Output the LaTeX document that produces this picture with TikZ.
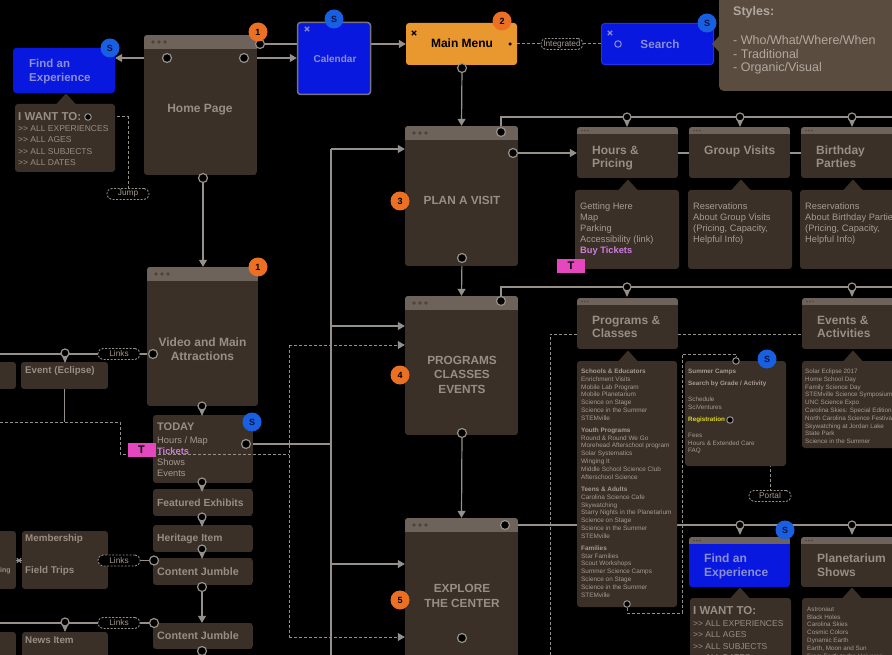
\documentclass[tikz,border=0pt]{standalone}
\usepackage{fontspec}
\setmainfont{Liberation Sans}
\usetikzlibrary{arrows.meta,fit,calc}
\pgfdeclarelayer{back}\pgfdeclarelayer{lines}\pgfdeclarelayer{front}
\pgfsetlayers{back,lines,main,front}
\definecolor{cardc}{RGB}{58,48,40}
\definecolor{headc}{RGB}{110,99,90}
\definecolor{dotc}{RGB}{78,68,60}
\definecolor{linec}{RGB}{150,144,138}
\definecolor{textc}{RGB}{152,142,134}
\definecolor{ltext}{RGB}{165,155,146}
\definecolor{blueb}{RGB}{8,24,222}
\definecolor{bluet}{RGB}{140,142,212}
\definecolor{sbadge}{RGB}{25,95,225}
\definecolor{sbt}{RGB}{10,20,70}
\definecolor{obadge}{RGB}{235,112,35}
\definecolor{menuc}{RGB}{233,152,48}
\definecolor{pinkc}{RGB}{230,70,190}
\definecolor{pinkt}{RGB}{205,125,220}
\definecolor{yelt}{RGB}{225,215,40}
\definecolor{stylec}{RGB}{90,77,64}
\definecolor{stylet}{RGB}{178,168,158}
\definecolor{calb}{RGB}{120,115,128}
\newcommand\fsz[2]{\fontsize{#1}{#2}\selectfont}
% card: [body colour]{name}{x1}{y1}{x2}{y2}{header height}
\newcommand\cardbox[7][cardc]{%
 \begin{scope}
 \clip[rounded corners=3pt] (#3,#4) rectangle (#5,#6);
 \fill[#1] (#3,#4) rectangle (#5,#6);
 \ifdim #7pt>0pt \fill[headc] (#3,#4) rectangle (#5,{#4+#7}); \fi
 \end{scope}
 \node[inner sep=0pt, fit={(#3,#4) (#5,#6)}] (#2) {};
}
% three header dots: x y radius spacing
\newcommand\wdots[4]{\foreach \i in {0,1,2}{\fill[dotc] ({#1+\i*#4},#2) circle (#3pt);}}
% tooltip: [colour]{name}{x1}{y1}{x2}{y2}{pointer x}
\newcommand\tipbox[7][cardc]{%
 \fill[#1, rounded corners=3pt] (#3,#4) rectangle (#5,#6);
 \fill[#1] ({#7-10},{#4+0.5}) -- (#7,{#4-10.5}) -- ({#7+10},{#4+0.5}) -- cycle;
 \node[inner sep=0pt, fit={(#3,#4) (#5,#6)}] (#2) {};
}
\newcommand\pinat[2]{%
 \fill[linec] ({#1-4},{#2+1}) -- ({#1+4},{#2+1}) -- (#1,{#2+10}) -- cycle;
 \draw[linec, line width=1.2pt, fill=black] (#1,#2) circle (4pt);
}
\newcommand\xm[3]{\draw[#3, line width=1.3pt] ({#1-2.2},{#2-2.2}) -- ({#1+2.2},{#2+2.2}) ({#1-2.2},{#2+2.2}) -- ({#1+2.2},{#2-2.2});}
\begin{document}
\begin{tikzpicture}[x=1pt,y=-1pt,
 conn/.style={draw=linec, line width=1.2pt},
 arr/.style={conn, -{Triangle[width=8pt,length=7pt]}},
 dsh/.style={draw=linec, line width=1pt, dash pattern=on 3pt off 2pt},
 darr/.style={dsh, -{Triangle[width=8pt,length=7pt]}},
 port/.style={circle, draw=linec, line width=1.2pt, fill=black, minimum size=9pt, inner sep=0pt},
 sport/.style={port, minimum size=6.5pt, line width=1pt},
 lab/.style={draw=linec, line width=0.9pt, dash pattern=on 2pt off 1.5pt, rounded corners=5pt, fill=black, text=ltext, font=\fsz{8.3}{9}, minimum width=42pt, minimum height=11pt, inner sep=0pt},
 ob/.style={circle, fill=obadge, minimum size=19pt, inner sep=0pt, font=\fsz{9}{10}\bfseries, text=black},
 sb/.style={ob, fill=sbadge, text=sbt},
 ttl/.style={text=textc, font=\fsz{12}{14.5}\bfseries, align=center, inner sep=0pt},
 sttl/.style={text=textc, font=\fsz{12}{13.6}\bfseries, align=left, inner sep=0pt, anchor=north west},
 lttl/.style={text=textc, font=\fsz{10.3}{12}\bfseries, inner sep=0pt, anchor=west},
 btl/.style={text=bluet, font=\fsz{11.5}{14.5}\bfseries, align=left, inner sep=0pt, anchor=north west},
 tip/.style={inner sep=0pt, align=left, text=ltext, font=\fsz{9.3}{11}, anchor=north west},
 small/.style={inner sep=0pt, align=left, text=ltext, font=\fsz{6.3}{7.8}, anchor=north west},
 iw/.style={inner sep=0pt, anchor=west, text=textc, font=\fsz{11.5}{13}\bfseries},
 iwl/.style={inner sep=0pt, align=left, anchor=north west, text=textc, font=\fsz{8.5}{11.5}},
 tb/.style={fill=pinkc, minimum width=28pt, minimum height=14pt, inner sep=0pt, font=\fsz{11}{12}\bfseries, text=black}
]
\useasboundingbox (0,0) rectangle (892,655);
\begin{pgfonlayer}{back}
\fill[black] (-10,-10) rectangle (902,665);
\end{pgfonlayer}

% ---------- top row ----------
\node[fill=blueb, rounded corners=3pt, minimum width=102pt, minimum height=45pt, inner sep=0pt] (fae) at (64,70.5) {};
\node[btl] at (29,58.8) {Find an\\Experience};
\tipbox{fiq}{15}{104}{115}{172}{66}
\node[iw] (iwt) at (18,117) {I WANT TO:};
\node[iwl] at (18,124.9) {>{}> ALL EXPERIENCES\\>{}> ALL AGES\\>{}> ALL SUBJECTS\\>{}> ALL DATES};
\node[lab] (jump) at (128,194) {Jump};

\cardbox{hp}{144}{35}{257}{175}{14}
\wdots{153}{42}{1.9}{6}
\node[ttl] at (200,110) {Home Page};

\node[fill=blueb, draw=calb, line width=1.5pt, rounded corners=3pt, minimum width=73pt, minimum height=72pt, inner sep=0pt] (cal) at (334,58.5) {};
\node[text=bluet, font=\fsz{10}{12}\bfseries, inner sep=0pt] at (335,59) {Calendar};
\xm{307}{29}{bluet}

\node[fill=menuc, rounded corners=3pt, minimum width=111pt, minimum height=42pt, inner sep=0pt] (mm) at (461.5,44) {};
\node[text=black, font=\fsz{12}{14}\bfseries, inner sep=0pt] at (462,43.5) {Main Menu};
\xm{414}{33}{black}

\node[lab] (integ) at (562,44) {Integrated};

\node[fill=blueb, draw={rgb,255:red,30;green,50;blue,240}, line width=1pt, rounded corners=3pt, minimum width=112pt, minimum height=41pt, inner sep=0pt] (sr) at (657.5,44) {};
\node[text=bluet, font=\fsz{11.7}{14}\bfseries, inner sep=0pt] at (660,44) {Search};
\xm{610}{33}{bluet}

\fill[stylec, rounded corners=5pt] (719,-8) rectangle (905,91);
\fill[stylec] (720,35) -- (712,44) -- (720,53) -- cycle;
\node[inner sep=0pt, anchor=west, text=stylet, font=\fsz{12.5}{14}\bfseries] (sty) at (733,12) {Styles:};
\node[inner sep=0pt, anchor=west, text=stylet, font=\fsz{12.5}{14}] at (733,40) {- Who/What/Where/When};
\node[inner sep=0pt, anchor=west, text=stylet, font=\fsz{12.5}{14}] at (733,54) {- Traditional};
\node[inner sep=0pt, anchor=west, text=stylet, font=\fsz{12.5}{14}] at (733,68) {- Organic/Visual};

% ---------- main column ----------
\cardbox{pv}{405}{126}{518}{266}{14}
\wdots{414}{133}{1.9}{6}
\node[ttl, font=\fsz{11.8}{14.5}\bfseries] at (462,200) {PLAN A VISIT};

\cardbox{pr}{405}{296}{518}{435}{14}
\wdots{414}{303}{1.9}{6}
\node[ttl, font=\fsz{11.8}{14.5}\bfseries, anchor=north] at (462,355.7) {PROGRAMS\\CLASSES\\EVENTS};

\cardbox{ex}{405}{518}{518}{670}{14}
\wdots{414}{525}{1.9}{6}
\node[ttl, font=\fsz{11.8}{15}\bfseries, anchor=north] at (462,583.6) {EXPLORE\\THE CENTER};

% ---------- left column ----------
\cardbox{vid}{147}{267}{258}{406}{14}
\wdots{156}{274}{1.9}{6}
\node[ttl, anchor=north] at (202.5,337.6) {Video and Main\\Attractions};

\cardbox{td}{153}{415}{253}{483}{0}
\node[inner sep=0pt, anchor=west, text=textc, font=\fsz{11}{13}\bfseries] at (157,427) {TODAY};
\node[tip] at (157,436.6) {Hours / Map\\\textcolor{pinkt}{\bfseries Tickets}\\Shows\\Events};

\cardbox{fe}{153}{489}{253}{516}{0}
\node[lttl] at (157,502.5) {Featured Exhibits};
\cardbox{her}{153}{525}{253}{552}{0}
\node[lttl] at (157,538.5) {Heritage Item};
\cardbox{cja}{153}{558}{253}{585}{0}
\node[lttl, font=\fsz{10.8}{12}\bfseries] at (157,571.5) {Content Jumble};
\cardbox{cjb}{153}{623}{253}{649}{0}
\node[lttl, font=\fsz{10.8}{12}\bfseries] at (157,636) {Content Jumble};

\cardbox{ecl}{21}{362}{108}{389}{0}
\node[lttl, font=\fsz{9.7}{12}\bfseries] at (25,371) {Event (Eclipse)};
\cardbox{cut1}{-6}{362}{16}{389}{0}
\cardbox{mem}{22}{531}{108}{589}{0}
\node[lttl, font=\fsz{9.8}{12}\bfseries] at (25,539) {Membership};
\node[lttl, font=\fsz{9.8}{12}\bfseries] at (25,571) {Field Trips};
\cardbox{cut2}{-6}{531}{16}{589}{0}
\node[lttl, font=\fsz{7}{8}\bfseries] at (0,571) {ing};
\cardbox{news}{22}{632}{108}{668}{0}
\node[lttl, font=\fsz{9.8}{12}\bfseries] at (25,640) {News Item};
\cardbox{cut3}{-6}{632}{16}{668}{0}

\node[lab] (lk1) at (119,354) {Links};
\node[lab] (lk2) at (119,560.5) {Links};
\node[lab] (lk3) at (119,623) {Links};

% ---------- right side ----------
\cardbox{hrs}{577}{127}{678}{178}{7}
\wdots{582}{130.5}{0.9}{3}
\node[sttl] at (592,145.5) {Hours \&\\Pricing};
\cardbox{grp}{689}{127}{790}{178}{7}
\wdots{694}{130.5}{0.9}{3}
\node[sttl] at (704,145.5) {Group Visits};
\cardbox{bdy}{801}{127}{905}{178}{7}
\wdots{806}{130.5}{0.9}{3}
\node[sttl] at (816,145.5) {Birthday\\Parties};

\tipbox{thrs}{575}{190}{679}{269}{628}
\node[tip] at (580,202.5) {Getting Here\\Map\\Parking\\Accessibility (link)\\\textcolor{pinkt}{\bfseries Buy Tickets}};
\tipbox{tgrp}{688}{190}{792}{269}{741}
\node[tip] at (693,202.5) {Reservations\\About Group Visits\\(Pricing, Capacity,\\Helpful Info)};
\tipbox{tbdy}{800}{190}{905}{269}{853}
\node[tip] at (805,202.5) {Reservations\\About Birthday Parties\\(Pricing, Capacity,\\Helpful Info)};

\cardbox{pc}{577}{298}{678}{349}{7}
\wdots{582}{301.5}{0.9}{3}
\node[sttl] at (592,315.6) {Programs \&\\Classes};
\cardbox{evt}{802}{298}{905}{349}{7}
\wdots{807}{301.5}{0.9}{3}
\node[sttl] at (817,315.6) {Events \&\\Activities};

\tipbox{tpc}{577}{361}{677}{607}{628}
\node[small, font=\fsz{6.4}{7.8}] at (581,368.6) {{\bfseries Schools \& Educators}\\Enrichment Visits\\Mobile Lab Program\\Mobile Planetarium\\Science on Stage\\Science in the Summer\\STEMville\\[4.2pt]
{\bfseries Youth Programs}\\Round \& Round We Go\\Morehead Afterschool program\\Solar Systematics\\Winging It\\Middle School Science Club\\Afterschool Science\\[4.6pt]
{\bfseries Teens \& Adults}\\Carolina Science Cafe\\Skywatching\\Starry Nights in the Planetarium\\Science on Stage\\Science in the Summer\\STEMville\\[4.2pt]
{\bfseries Families}\\Star Families\\Scout Workshops\\Summer Science Camps\\Science on Stage\\Science in the Summer\\STEMville};

\fill[cardc, rounded corners=3pt] (685,361) rectangle (786,466);
\node[inner sep=0pt, fit={(685,361) (786,466)}] (sc) {};
\node[small, anchor=west] at (688,372) {\bfseries Summer Camps};
\node[small, anchor=west] at (688,384) {\bfseries Search by Grade / Activity};
\node[small] at (688,396.7) {Schedule\\SciVentures};
\node[small, anchor=west, text=yelt] (regT) at (688,420) {\bfseries Registration};
\node[small] at (688,432.7) {Fees\\Hours \& Extended Care\\FAQ};
\node[lab] (portal) at (770,496) {Portal};

\tipbox{tevt}{802}{361}{905}{448}{853}
\node[small] at (805,368.7) {Solar Eclipse 2017\\Home School Day\\Family Science Day\\STEMville Science Symposium\\UNC Science Expo\\Carolina Skies: Special Edition\\North Carolina Science Festival\\Skywatching at Jordan Lake\\State Park\\Science in the Summer};

\cardbox[blueb]{fe2}{689}{537}{790}{587}{7}
\wdots{694}{540.5}{0.9}{3}
\node[btl, font=\fsz{12}{14}\bfseries] at (704,553.6) {Find an\\Experience};
\cardbox{pla}{801}{537}{905}{587}{7}
\wdots{806}{540.5}{0.9}{3}
\node[sttl] at (817,553.6) {Planetarium\\Shows};

\tipbox{tfe2}{690}{598}{791}{670}{740}
\node[iw] at (693,611) {I WANT TO:};
\node[iwl] at (693,619.9) {>{}> ALL EXPERIENCES\\>{}> ALL AGES\\>{}> ALL SUBJECTS\\>{}> ALL DATES};
\tipbox{tpla}{802}{598}{905}{670}{852}
\node[small] at (807,606.7) {Astronaut\\Black Holes\\Carolina Skies\\Cosmic Colors\\Dynamic Earth\\Earth, Moon and Sun\\From Earth to the Universe};

% ---------- ports ----------
\begin{pgfonlayer}{front}
\node[port] (hpL) at (167,58) {};
\node[port] (hpR) at (244,58) {};
\node[port] (hpT) at (260,44) {};
\node[port] (hpB) at (203,178) {};
\node[sport] (fiqI) at (88,117) {};
\node[circle, fill=black, minimum size=3.5pt, inner sep=0pt] (mmD) at (510,44) {};
\node[port] (mmB) at (462,68) {};
\node[sport, draw=bluet, fill=blueb] (srC) at (618,44) {};
\node[port] (pvT) at (501,132) {};
\node[port] (pvR) at (513,153) {};
\node[port] (pvB) at (462,258) {};
\node[port] (prT) at (501,301) {};
\node[port] (prB) at (462,433) {};
\node[port] (exT) at (505,525) {};
\node[port] (exB) at (462,638) {};
\node[port] (vL) at (153,354) {};
\node[port] (tdR) at (246,444) {};
\node[port] (cj1L) at (154,560.5) {};
\node[port] (cj2L) at (154,623) {};
\node[port] (cj1B) at (202,587) {};
\node[port] (cj2B) at (202,651) {};
\node[sport] (pgB) at (627,604) {};
\node[sport] (scT) at (736,361) {};
\node[sport] (regC) at (730,420) {};
\end{pgfonlayer}

\coordinate (rowA) at (905,117);
\coordinate (rowB) at (905,287);
\coordinate (rowC) at (905,525);
\coordinate (botE) at (462,665);
\coordinate (busT) at (331,149);
\coordinate (busP) at (331,326);
\coordinate (busE) at (331,564);
\coordinate (busB) at (331,665);
\coordinate (dbT) at (289,345);
\coordinate (dbB) at (289,637);
\coordinate (ld0) at (-5,422);
\coordinate (ld1) at (120,454);
\coordinate (le1) at (-5,354);
\coordinate (le2) at (-5,560.5);
\coordinate (le3) at (-5,623);
\coordinate (dA) at (682,613);
\coordinate (dB) at (682,354);
\coordinate (pcA) at (577,334);
\coordinate (pcB) at (550,665);

% ---------- connectors ----------
\begin{pgfonlayer}{lines}
\draw[arr] (hpL) -- (hpL -| fae.east);
\draw[arr] (hpR) -- (hpR -| cal.west);
\draw[conn] (hpT) -- (hpT -| cal.west);
\draw[arr] (mm.west -| cal.east) -- (mm.west);
\draw[dsh] (mmD) -- (integ);
\draw[dsh] (integ) -- (srC);
\draw[arr] (mmB) -- (pv.north);
\draw[arr] (hpB) -- (hpB |- vid.north);
\draw[dsh] (fiqI) -| (jump);
\draw[conn] (pvT) |- (rowA);
\draw[arr] (pvR) -- (pvR -| hrs.west);
\draw[conn] (pvR -| hrs.east) -- (pvR -| grp.west);
\draw[conn] (pvR -| grp.east) -- (pvR -| bdy.west);
\draw[arr] (pvB) -- (pr.north);
\draw[conn] (prT) |- (rowB);
\draw[arr] (prB) -- (ex.north);
\draw[conn] (exT) -- (rowC);
\draw[conn] (exB) -- (botE);
\draw[conn] (busB) -- (busT);
\draw[arr] (busT) -- (busT -| pv.west);
\draw[arr] (busP) -- (busP -| pr.west);
\draw[arr] (busE) -- (busE -| ex.west);
\draw[conn] (tdR) -- (tdR -| busT);
\draw[dsh] (dbT) -- (dbB);
\draw[darr] (dbT) -- (dbT -| pr.west);
\draw[darr] (dbB) -- (dbB -| ex.west);
\draw[conn] (ecl.south) -- (ecl.south |- ld0);
\draw[conn] (vL) -- (lk1);
\draw[conn] (lk1) -- (le1);
\draw[conn] (cj1L) -- (lk2);
\draw[conn] (lk2) -- (le2);
\draw[conn] (cj2L) -- (lk3);
\draw[conn] (lk3) -- (le3);
\draw[arr] (cj1B) -- (cj1B |- cjb.north);
\draw[dsh] (pgB) |- (dA) -- (dB) -| (scT);
\draw[dsh] (regC) -| (portal);
\draw[dsh] (pcA) -| (pcB);
\draw[dsh] (pcA -| pc.east) -- (pcA -| evt.west);
\end{pgfonlayer}

% ---------- pins, badges, overlays ----------
\begin{pgfonlayer}{front}
\draw[dsh] (ld0) -| (ld1) -- (ld1 -| dbT);
\pinat{627}{117}\pinat{740}{117}\pinat{852}{117}
\pinat{627}{287}\pinat{852}{287}
\pinat{740}{525}\pinat{852}{525}
\pinat{65}{353}\pinat{65}{622}
\pinat{202}{406}\pinat{202}{482}\pinat{202}{517}\pinat{202}{549}
\xm{19}{560.5}{linec}
\node[tb] (t1) at (571,266) {T};
\node[tb] (t2) at (141.5,450) {T};
\node[ob] at (258,32) {1};
\node[ob] at (258,267) {1};
\node[ob] at (502,21) {2};
\node[ob] at (400,201) {3};
\node[ob] at (400,375) {4};
\node[ob] at (400,600) {5};
\node[sb] at (110,48) {S};
\node[sb] at (334,19) {S};
\node[sb] at (707,23) {S};
\node[sb] at (252,422) {S};
\node[sb] at (767,359) {S};
\node[sb] at (785,530) {S};
\end{pgfonlayer}
\end{tikzpicture}
\end{document}
